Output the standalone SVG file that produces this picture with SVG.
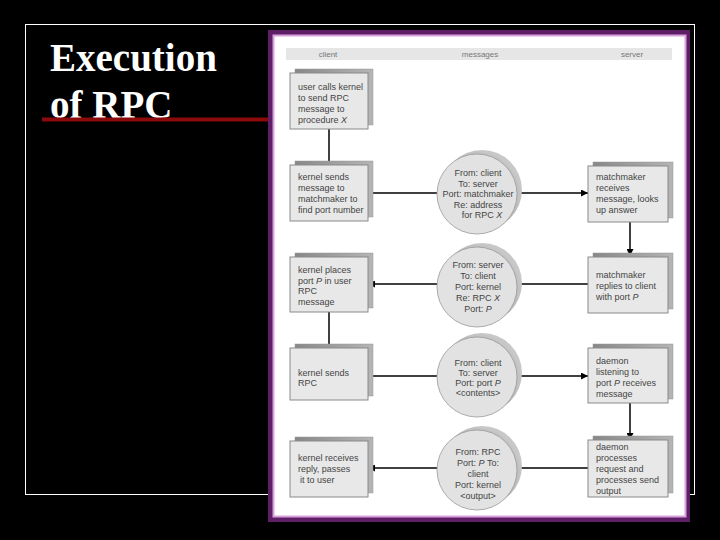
<svg xmlns="http://www.w3.org/2000/svg" width="720" height="540" viewBox="0 0 720 540">
<defs>
<style>
.title{font-family:"Liberation Serif","Times New Roman",serif;font-weight:bold;font-size:39px;fill:#fff}
.hdr{font-family:"Liberation Sans",Arial,sans-serif;font-size:8px;fill:#777;text-anchor:middle}
.t{font-family:"Liberation Sans",Arial,sans-serif;font-size:9px;fill:#444}
.c{font-family:"Liberation Sans",Arial,sans-serif;font-size:9px;fill:#444;text-anchor:middle}
.i{font-style:italic}
.sh{fill:url(#shg);stroke:#999;stroke-width:0.5}
.bx{fill:#e8e8e8;stroke:#8a8a8a;stroke-width:1}
.csh{fill:url(#csg)}
.cf{fill:#e2e2e2;stroke:#999;stroke-width:0.8}
.ln{stroke:#000;stroke-width:1.5;fill:none}
</style>
<linearGradient id="shg" x1="0" y1="0" x2="1" y2="0">
<stop offset="0" stop-color="#888"/><stop offset="1" stop-color="#b5b5b5"/>
</linearGradient>
<radialGradient id="csg" cx="0.4" cy="0.6" r="0.6">
<stop offset="0.7" stop-color="#aaa"/><stop offset="1" stop-color="#c8c8c8"/>
</radialGradient>
<marker id="ah" viewBox="0 0 10 10" refX="10" refY="5" markerWidth="7" markerHeight="7" markerUnits="userSpaceOnUse" orient="auto">
<path d="M0,0 L10,5 L0,10 z" fill="#000"/>
</marker>
</defs>
<rect x="0" y="0" width="720" height="540" fill="#000"/>
<rect x="25.5" y="24.5" width="669" height="470" fill="none" stroke="#fff" stroke-width="1"/>
<g id="title">
<text class="title" x="50" y="71">Execution</text>
<text class="title" x="50" y="118">of RPC</text>
<rect x="42" y="117.5" width="228" height="4" fill="#8b0a0a"/>
</g>
<g id="panel">
<rect x="268" y="30" width="422" height="492" fill="#5e1f66"/>
<rect x="273.5" y="35.5" width="412" height="481" fill="#fff" stroke="#d8a2dc" stroke-width="2"/>
<rect x="286" y="48" width="386" height="12" fill="#e6e6e6"/>
<text class="hdr" x="328" y="57">client</text>
<text class="hdr" x="480" y="57">messages</text>
<text class="hdr" x="632" y="57">server</text>
</g>
<g id="connectors">
<line class="ln" x1="329" y1="129" x2="329" y2="165"/>
<line class="ln" x1="368" y1="193" x2="437" y2="193"/>
<line class="ln" x1="517" y1="193" x2="588" y2="193" marker-end="url(#ah)"/>
<line class="ln" x1="630" y1="222" x2="630" y2="256" marker-end="url(#ah)"/>
<line class="ln" x1="588" y1="284" x2="517" y2="284"/>
<line class="ln" x1="437" y1="284" x2="368" y2="284" marker-end="url(#ah)"/>
<line class="ln" x1="329" y1="312" x2="329" y2="348"/>
<line class="ln" x1="368" y1="376" x2="437" y2="376"/>
<line class="ln" x1="517" y1="376" x2="588" y2="376" marker-end="url(#ah)"/>
<line class="ln" x1="630" y1="403" x2="630" y2="440" marker-end="url(#ah)"/>
<line class="ln" x1="588" y1="468" x2="517" y2="468"/>
<line class="ln" x1="437" y1="468" x2="368" y2="468" marker-end="url(#ah)"/>
</g>
<g id="n1">
<rect class="sh" x="295" y="69" width="78" height="56"/>
<rect class="bx" x="290" y="73" width="78" height="56"/>
<text class="t" x="298" y="90">user calls kernel</text>
<text class="t" x="298" y="101">to send RPC</text>
<text class="t" x="298" y="112">message to</text>
<text class="t" x="298" y="123">procedure <tspan class="i">X</tspan></text>
</g>
<g id="n2">
<rect class="sh" x="295" y="161" width="78" height="56"/>
<rect class="bx" x="290" y="165" width="78" height="56"/>
<text class="t" x="298" y="180">kernel sends</text>
<text class="t" x="298" y="191">message to</text>
<text class="t" x="298" y="202">matchmaker to</text>
<text class="t" x="298" y="213">find port number</text>
</g>
<g id="m1">
<circle class="csh" cx="482" cy="190" r="40"/>
<circle class="cf" cx="477" cy="194" r="40"/>
<text class="c" x="478" y="176">From: client</text>
<text class="c" x="478" y="187">To: server</text>
<text class="c" x="478" y="197">Port: matchmaker</text>
<text class="c" x="478" y="208">Re: address</text>
<text class="c" x="482" y="218">for RPC <tspan class="i">X</tspan></text>
</g>
<g id="s1">
<rect class="sh" x="593" y="162" width="80" height="56"/>
<rect class="bx" x="588" y="166" width="80" height="56"/>
<text class="t" x="596" y="180">matchmaker</text>
<text class="t" x="596" y="191">receives</text>
<text class="t" x="596" y="202">message, looks</text>
<text class="t" x="596" y="213">up answer</text>
</g>
<g id="n3">
<rect class="sh" x="295" y="253" width="78" height="55"/>
<rect class="bx" x="290" y="257" width="78" height="55"/>
<text class="t" x="298" y="273">kernel places</text>
<text class="t" x="298" y="284">port <tspan class="i">P</tspan> in user</text>
<text class="t" x="298" y="294">RPC</text>
<text class="t" x="298" y="305">message</text>
</g>
<g id="m2">
<circle class="csh" cx="482" cy="283" r="40"/>
<circle class="cf" cx="477" cy="287" r="40"/>
<text class="c" x="478" y="268">From: server</text>
<text class="c" x="478" y="279">To: client</text>
<text class="c" x="478" y="290">Port: kernel</text>
<text class="c" x="478" y="301">Re: RPC <tspan class="i">X</tspan></text>
<text class="c" x="478" y="312">Port: <tspan class="i">P</tspan></text>
</g>
<g id="s2">
<rect class="sh" x="593" y="253" width="80" height="56"/>
<rect class="bx" x="588" y="257" width="80" height="56"/>
<text class="t" x="596" y="278">matchmaker</text>
<text class="t" x="596" y="289">replies to client</text>
<text class="t" x="596" y="300">with port <tspan class="i">P</tspan></text>
</g>
<g id="n4">
<rect class="sh" x="295" y="344" width="78" height="52"/>
<rect class="bx" x="290" y="348" width="78" height="52"/>
<text class="t" x="298" y="376">kernel sends</text>
<text class="t" x="298" y="386">RPC</text>
</g>
<g id="m3">
<circle class="csh" cx="482" cy="373" r="40"/>
<circle class="cf" cx="477" cy="377" r="40"/>
<text class="c" x="478" y="366">From: client</text>
<text class="c" x="478" y="376">To: server</text>
<text class="c" x="478" y="386">Port: port <tspan class="i">P</tspan></text>
<text class="c" x="478" y="396">&lt;contents&gt;</text>
</g>
<g id="s3">
<rect class="sh" x="593" y="344" width="80" height="55"/>
<rect class="bx" x="588" y="348" width="80" height="55"/>
<text class="t" x="596" y="364">daemon</text>
<text class="t" x="596" y="375">listening to</text>
<text class="t" x="596" y="386">port <tspan class="i">P</tspan> receives</text>
<text class="t" x="596" y="397">message</text>
</g>
<g id="n5">
<rect class="sh" x="295" y="437" width="78" height="56"/>
<rect class="bx" x="290" y="441" width="78" height="56"/>
<text class="t" x="298" y="461">kernel receives</text>
<text class="t" x="298" y="472">reply, passes</text>
<text class="t" x="300" y="483">it to user</text>
</g>
<g id="m4">
<circle class="csh" cx="482" cy="466" r="40"/>
<circle class="cf" cx="477" cy="470" r="40"/>
<text class="c" x="478" y="455">From: RPC</text>
<text class="c" x="478" y="466">Port: <tspan class="i">P</tspan> To:</text>
<text class="c" x="478" y="477">client</text>
<text class="c" x="478" y="488">Port: kernel</text>
<text class="c" x="478" y="499">&lt;output&gt;</text>
</g>
<g id="s4">
<rect class="sh" x="593" y="436" width="80" height="57"/>
<rect class="bx" x="588" y="440" width="80" height="57"/>
<text class="t" x="596" y="450">daemon</text>
<text class="t" x="596" y="461">processes</text>
<text class="t" x="596" y="472">request and</text>
<text class="t" x="596" y="483">processes send</text>
<text class="t" x="596" y="494">output</text>
</g>
</svg>
